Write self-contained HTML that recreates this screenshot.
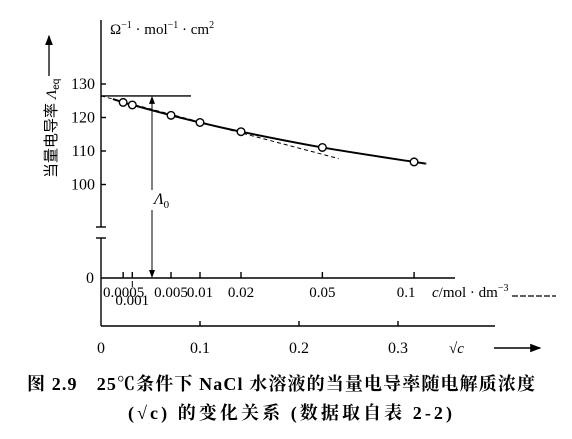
<!DOCTYPE html>
<html><head><meta charset="utf-8"><style>
body{margin:0;background:#fff;}
svg{display:block;font-family:"Liberation Serif","Noto Serif CJK SC",serif;}
</style></head><body>
<svg width="572" height="439" viewBox="0 0 572 439">
<defs><marker id="ah" markerWidth="8" markerHeight="8" refX="7" refY="4" orient="auto"><path d="M0,1 L8,4 L0,7 Z" fill="#000"/></marker></defs>
<g id="g" stroke="#000" fill="none" stroke-width="1.4"></g>
<g id="t" fill="#000" font-size="15"></g>
<text x="110" y="34" font-size="15">Ω<tspan dy="-6" font-size="10">−1</tspan><tspan dy="6"> · mol</tspan><tspan dy="-6" font-size="10">−1</tspan><tspan dy="6"> · cm</tspan><tspan dy="-6" font-size="10">2</tspan></text>
<g>
<line x1="49" y1="76" x2="49" y2="36" stroke="#000" stroke-width="1.3" marker-end="url(#ah)"/>
<text transform="translate(56,178) rotate(-90)" font-size="15" font-family="Liberation Sans,Noto Sans CJK SC,sans-serif">当量电导率 <tspan font-family="Liberation Serif,serif" font-style="italic">Λ</tspan><tspan font-size="10" dy="3">eq</tspan></text>
</g>
<text x="154" y="204" font-size="16" font-style="italic">Λ<tspan font-size="11" dy="4" font-style="normal">0</tspan></text>
<text x="432" y="297" font-size="15"><tspan font-style="italic">c</tspan>/mol · dm<tspan dy="-6" font-size="10">−3</tspan></text>
<line x1="512" y1="296" x2="556" y2="296" stroke="#000" stroke-width="1.2" stroke-dasharray="6,2"/>
<text x="449" y="353" font-size="15">√<tspan font-style="italic">c</tspan></text>
<line x1="494" y1="348" x2="540" y2="348" stroke="#000" stroke-width="1.4" marker-end="url(#ah)"/>
<text x="27" y="390" font-size="18" textLength="508" lengthAdjust="spacing" font-family="Liberation Serif,Noto Serif CJK SC,serif" font-weight="bold">图 2.9　25℃条件下 NaCl 水溶液的当量电导率随电解质浓度</text>
<text x="128" y="419" font-size="18" textLength="324" lengthAdjust="spacing" font-family="Liberation Serif,Noto Serif CJK SC,serif" font-weight="bold">(√c) 的变化关系 (数据取自表 2-2)</text>
</svg>
<script>
const concLabels=["0.0005","0.001","0.005","0.01","0.02","0.05","0.1"];
const concValues=[0.0005,0.001,0.005,0.01,0.02,0.05,0.1];
const lambdaValues=[124.5,123.74,120.65,118.51,115.76,111.06,106.74];
const lambda0=126.45;
const limitingSlope=-78;
const yTicks=[100,110,120,130];
const sqrtTicks=[0,0.1,0.2,0.3];
const X=s=>101+s*990;
const Y=v=>84+(130-v)*3.35;
const NS="http://www.w3.org/2000/svg";
const g=document.getElementById('g'),t=document.getElementById('t');
function mk(tag,a,p){const e=document.createElementNS(NS,tag);for(const k in a)e.setAttribute(k,a[k]);(p||g).appendChild(e);return e;}
let e;
e=mk('line',{x1:101,y1:20,x2:101,y2:227});
mk('line',{x1:96,y1:227,x2:106,y2:227});
e=mk('line',{x1:101,y1:238,x2:101,y2:326});
mk('line',{x1:96,y1:238,x2:106,y2:238});
e=mk('line',{x1:101,y1:278,x2:455,y2:278});
e=mk('line',{x1:101,y1:326,x2:495,y2:326});
yTicks.forEach(v=>{mk('line',{x1:101,y1:Y(v),x2:106,y2:Y(v)});
e=mk('text',{x:95,y:Y(v)+5,'text-anchor':'end','font-size':16},t);e.textContent=v;
});
e=mk('text',{x:94,y:283,'text-anchor':'end','font-size':16},t);e.textContent='0';
sqrtTicks.forEach(s=>{if(s>0)mk('line',{x1:X(s),y1:326,x2:X(s),y2:321});
e=mk('text',{x:X(s),y:353,'text-anchor':'middle','font-size':16},t);e.textContent=s;
});
concValues.forEach((c,i)=>{const x=X(Math.sqrt(c));mk('line',{x1:x,y1:278,x2:x,y2:272});
const low=i===1;if(low)mk('line',{x1:x,y1:281,x2:x,y2:287,'stroke-width':1});
e=mk('text',{x:i===0?103:(i===6?x-8:x),y:low?305:297,'text-anchor':i===0?'start':'middle','font-size':15},t);e.textContent=concLabels[i];
});
e=mk('line',{x1:101,y1:Y(lambda0),x2:191,y2:Y(lambda0)});
e=mk('line',{x1:152,y1:190,x2:152,y2:Y(lambda0)+1,'marker-end':'url(#ah)','stroke-width':1});
e=mk('line',{x1:152,y1:210,x2:152,y2:277,'marker-end':'url(#ah)','stroke-width':1});
e=mk('line',{x1:X(0),y1:Y(lambda0),x2:X(0.24),y2:Y(lambda0+limitingSlope*0.24),'stroke-dasharray':'4,3','stroke-width':1});

const pts=[[X(0.012),Y(lambda0+limitingSlope*0.012)]];
concValues.forEach((c,i)=>pts.push([X(Math.sqrt(c)),Y(lambdaValues[i])]));
pts.push([X(0.328),Y(lambdaValues[6]-0.45)]);
let d='M'+pts[0][0]+','+pts[0][1];
for(let i=0;i<pts.length-1;i++){const p0=pts[Math.max(0,i-1)],p1=pts[i],p2=pts[i+1],p3=pts[Math.min(pts.length-1,i+2)];
d+=' C'+(p1[0]+(p2[0]-p0[0])/6)+','+(p1[1]+(p2[1]-p0[1])/6)+' '+(p2[0]-(p3[0]-p1[0])/6)+','+(p2[1]-(p3[1]-p1[1])/6)+' '+p2[0]+','+p2[1];}
e=mk('path',{d:d,'stroke-width':2,'stroke-linejoin':'round'});
concValues.forEach((c,i)=>{e=mk('circle',{cx:X(Math.sqrt(c)),cy:Y(lambdaValues[i]),r:3.8,fill:'#fff'});
});
</script>
</body></html>
